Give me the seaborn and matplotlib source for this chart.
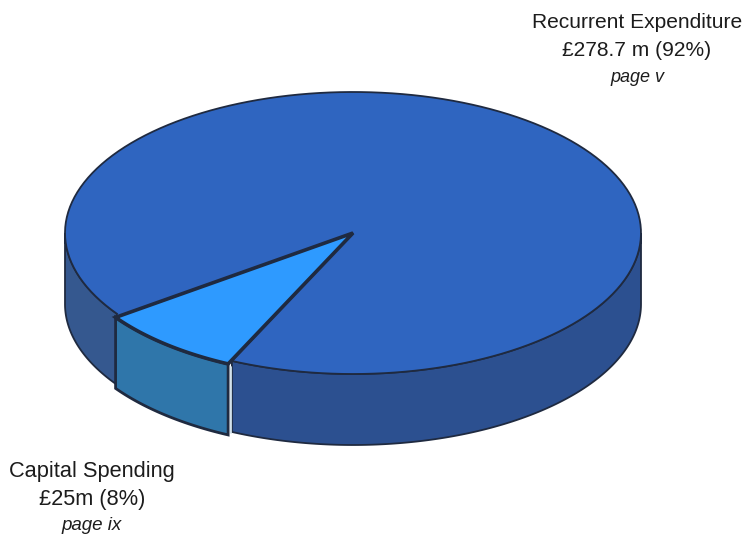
import numpy as np
import pandas as pd
import matplotlib
matplotlib.use("Agg")
import matplotlib.pyplot as plt
from matplotlib.patches import Polygon
import seaborn as sns

# Budget split, in millions of pounds
categories = ["Recurrent Expenditure", "Capital Spending"]
amounts = [278.7, 25.0]
amount_labels = ["£278.7 m (92%)", "£25m (8%)"]
page_labels = ["page v", "page ix"]

sns.set_theme(style="white")
plt.rcParams["font.family"] = ["Liberation Sans", "DejaVu Sans"]

df = pd.DataFrame({"category": categories, "amount": amounts})
df["sweep"] = 360 * df["amount"] / df["amount"].sum()

W, H = 748, 536
fig = plt.figure(figsize=(W / 100, H / 100), dpi=100)
ax = fig.add_axes([0, 0, 1, 1])
ax.set_xlim(0, W)
ax.set_ylim(H, 0)
ax.axis("off")

# Disc geometry in pixel-like axes units
cx, cy, rx, ry, depth = 353, 233, 288, 141, 71
capital_start = 215.0
capital_end = capital_start + df.loc[1, "sweep"]
# The capital slice sits slightly proud of the disc
nudge = np.array([-1.5, 3.5])


def rim(a0, a1, n=160, drop=0.0):
    t = np.radians(np.linspace(a0, a1, n))
    return np.column_stack([cx + rx * np.cos(t), cy - ry * np.sin(t) + drop])


def wall(a0, a1, face, edge="#1f2a40", lw=1.3, z=2, shift=(0, 0)):
    pts = np.vstack([rim(a0, a1), rim(a1, a0, drop=depth)]) + np.asarray(shift)
    ax.add_patch(Polygon(pts, closed=True, facecolor=face, edgecolor=edge, lw=lw, zorder=z))


def add_face(pts, face, edge="#1f2a40", lw=1.3, z=4):
    ax.add_patch(Polygon(pts, closed=True, facecolor=face, edgecolor=edge, lw=lw,
                         joinstyle="miter", zorder=z))


# Side walls first, then the top faces
wall(180, capital_start, "#35588f")
wall(capital_end + 0.5, 360, "#2c5090")
wall(capital_start, capital_end, "#2f76aa", lw=2.0, z=3, shift=nudge)

centre = np.array([[cx, cy]])
big_rim = rim(capital_end + 0.5, capital_start + 360)
corner_low = rim(capital_start, capital_start, n=1) + nudge
add_face(np.vstack([centre, big_rim, corner_low]), "#2f65c0")
add_face(np.vstack([centre, rim(capital_start, capital_end) + nudge]), "#2e9aff", lw=2.6, z=5)

# Pale highlight along the seam beside the capital wall
seam = rim(capital_end + 0.25, capital_end + 0.25, n=1)[0]
ax.plot([seam[0], seam[0]], [seam[1] + 6, seam[1] + depth + 1], color="#cfe0ea", lw=1.3, zorder=6)

# Label blocks: position, name size and page-reference size per block
text_color = "#1c1c1c"
label_pos = [(637, 23), (92, 471)]
name_size = [15.1, 15.7]
page_size = [13.0, 13.5]
for i, (x, y) in enumerate(label_pos):
    ax.text(x, y, categories[i], ha="center", va="center", fontsize=name_size[i], color=text_color)
    ax.text(x, y + 28, amount_labels[i], ha="center", va="center", fontsize=name_size[i], color=text_color)
    ax.text(x, y + 55, page_labels[i], ha="center", va="center",
            fontsize=page_size[i], style="italic", color=text_color)

fig.savefig("out.png", dpi=100, facecolor="white")
